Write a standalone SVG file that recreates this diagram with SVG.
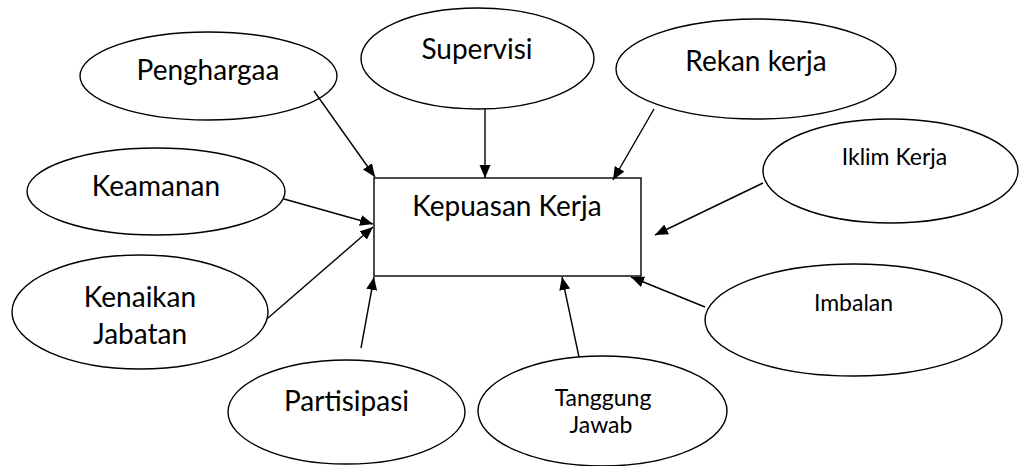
<svg xmlns="http://www.w3.org/2000/svg" width="1019" height="466" viewBox="0 0 1019 466">
<defs>
<marker id="arr" markerUnits="userSpaceOnUse" markerWidth="14" markerHeight="12" refX="13" refY="5.5" orient="auto">
<path d="M0,0 L13,5.5 L0,11 z" fill="#000"/>
</marker>
<style>
.n{fill:#fff;stroke:#000;stroke-width:1.4}
.t{font-family:Lato,"Liberation Sans",sans-serif;font-size:28px;fill:#000;text-anchor:middle}
.s{font-size:23px}
.c line{stroke:#000;stroke-width:1.4;marker-end:url(#arr)}
</style>
</defs>
<rect width="1019" height="466" fill="#fff"/>
<g id="penghargaa"><ellipse class="n" cx="208.5" cy="76" rx="128.5" ry="44"/><text class="t" x="208" y="80">Penghargaa</text></g>
<g id="supervisi"><ellipse class="n" cx="477.5" cy="58.5" rx="116.5" ry="50.5"/><text class="t" x="477" y="59">Supervisi</text></g>
<g id="rekan-kerja"><ellipse class="n" cx="756" cy="69" rx="140" ry="50"/><text class="t" x="756" y="71">Rekan kerja</text></g>
<g id="iklim-kerja"><ellipse class="n" cx="890.5" cy="171" rx="127.5" ry="52"/><text class="t s" x="894.5" y="165">Iklim Kerja</text></g>
<g id="keamanan"><ellipse class="n" cx="156" cy="191.5" rx="129" ry="43.5"/><text class="t" x="156" y="196">Keamanan</text></g>
<g id="kepuasan-kerja"><rect class="n" x="374" y="178" width="267" height="98"/><text class="t" x="507" y="216">Kepuasan Kerja</text></g>
<g id="kenaikan-jabatan"><ellipse class="n" cx="140" cy="312" rx="128" ry="57"/><text class="t" x="140" y="307">Kenaikan</text><text class="t" x="140" y="344">Jabatan</text></g>
<g id="imbalan"><ellipse class="n" cx="853.5" cy="320" rx="148.5" ry="56"/><text class="t s" x="853.5" y="311">Imbalan</text></g>
<g id="partisipasi"><ellipse class="n" cx="346.5" cy="412" rx="118.5" ry="52"/><text class="t" x="346.5" y="411">Partisipasi</text></g>
<g id="tanggung-jawab"><ellipse class="n" cx="602.5" cy="411" rx="124.5" ry="55"/><text class="t s" x="603" y="406">Tanggung</text><text class="t s" x="601" y="433">Jawab</text></g>
<g id="connectors" class="c">
<line x1="314" y1="91" x2="375" y2="177"/>
<line x1="485" y1="109" x2="485" y2="178"/>
<line x1="654" y1="109" x2="613" y2="180"/>
<line x1="763" y1="183" x2="655" y2="235"/>
<line x1="284" y1="199" x2="373" y2="224"/>
<line x1="268" y1="318" x2="373" y2="227"/>
<line x1="361" y1="348" x2="374" y2="277"/>
<line x1="579" y1="357" x2="562" y2="277"/>
<line x1="705" y1="307" x2="631" y2="277"/>
</g>
</svg>
